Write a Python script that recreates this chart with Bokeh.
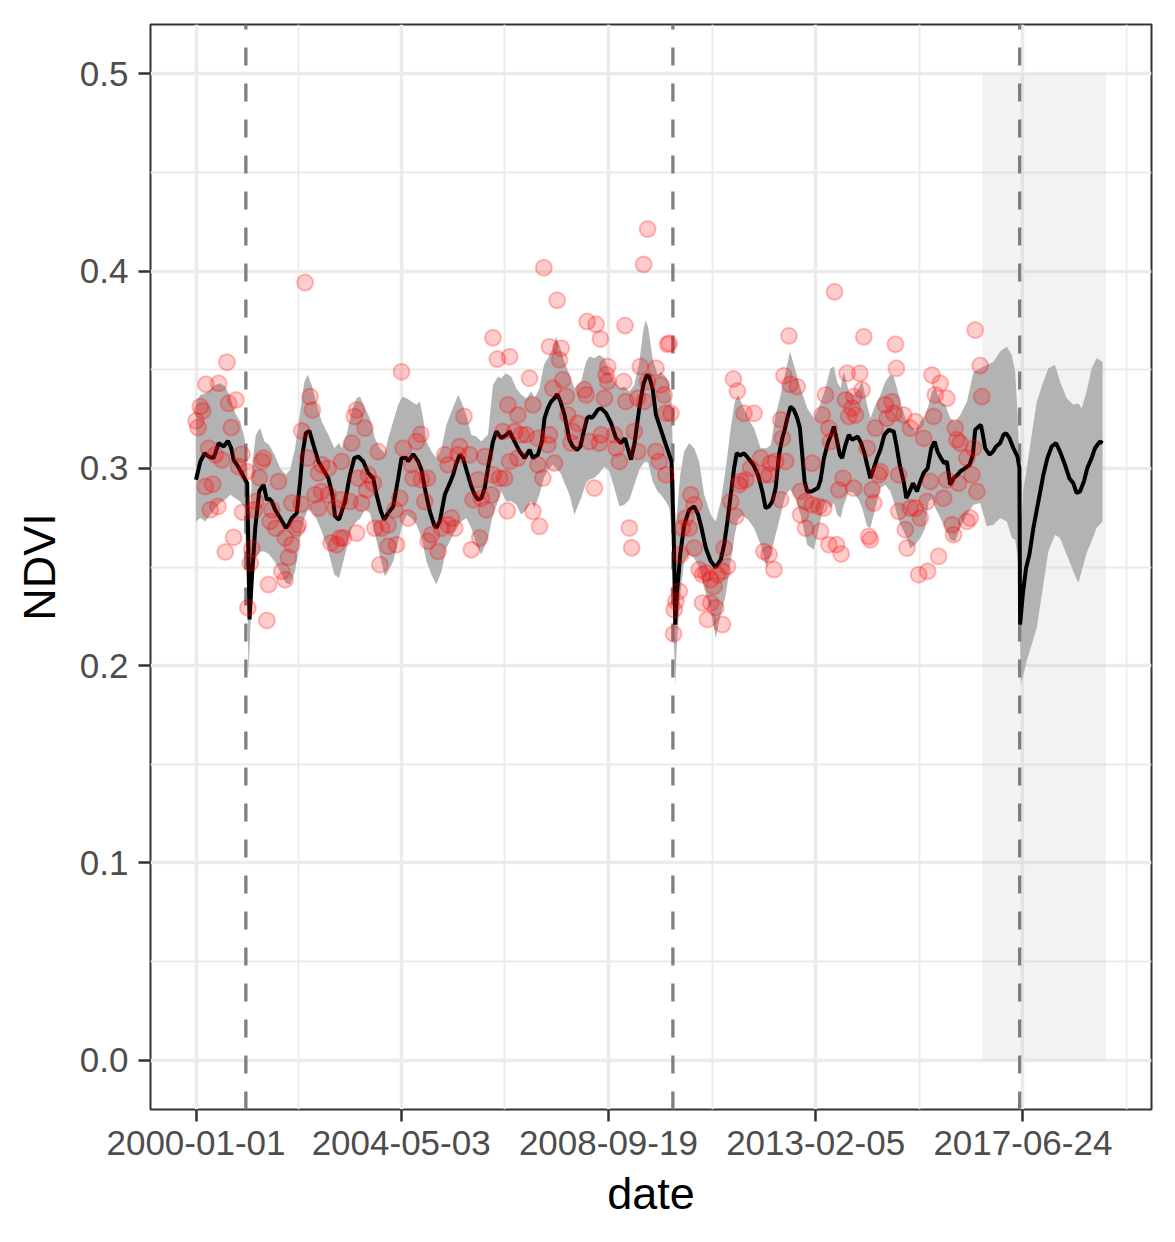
import pandas as pd
from bokeh.plotting import figure
from bokeh.models import Range1d, FixedTicker, DatetimeTickFormatter, NumeralTickFormatter
from bokeh.embed import file_html
from bokeh.resources import INLINE

# ---------------- data (decimal years, NDVI) ----------------
fit_year = [2000.000, 2000.092, 2000.183, 2000.267, 2000.373, 2000.478, 2000.584, 2000.675, 2000.745, 2000.795,
            2000.865, 2000.970, 2001.041, 2001.083, 2001.111, 2001.132, 2001.181, 2001.252, 2001.336, 2001.427,
            2001.498, 2001.547, 2001.603, 2001.673, 2001.779, 2001.898, 2001.955, 2002.025, 2002.130, 2002.201,
            2002.250, 2002.320, 2002.397, 2002.482, 2002.587, 2002.693, 2002.798, 2002.883, 2002.939, 2003.023,
            2003.149, 2003.255, 2003.346, 2003.430, 2003.536, 2003.641, 2003.747, 2003.817, 2003.908, 2003.979,
            2004.063, 2004.169, 2004.274, 2004.344, 2004.450, 2004.485, 2004.590, 2004.696, 2004.766, 2004.836,
            2004.942, 2005.033, 2005.082, 2005.153, 2005.258, 2005.364, 2005.434, 2005.504, 2005.575, 2005.645,
            2005.715, 2005.820, 2005.891, 2005.961, 2006.031, 2006.102, 2006.172, 2006.277, 2006.348, 2006.453,
            2006.558, 2006.629, 2006.734, 2006.840, 2006.945, 2007.051, 2007.121, 2007.226, 2007.311, 2007.367,
            2007.437, 2007.507, 2007.578, 2007.634, 2007.704, 2007.789, 2007.845, 2007.894, 2007.964, 2008.056,
            2008.126, 2008.196, 2008.267, 2008.316, 2008.365, 2008.421, 2008.492, 2008.562, 2008.667, 2008.773,
            2008.878, 2008.984, 2009.068, 2009.124, 2009.195, 2009.265, 2009.370, 2009.462, 2009.532, 2009.581,
            2009.651, 2009.722, 2009.827, 2009.932, 2010.003, 2010.052, 2010.094, 2010.122, 2010.129, 2010.164,
            2010.235, 2010.319, 2010.425, 2010.530, 2010.614, 2010.685, 2010.776, 2010.881, 2010.987, 2011.092,
            2011.163, 2011.233, 2011.303, 2011.374, 2011.430, 2011.500, 2011.584, 2011.669, 2011.781, 2011.880,
            2011.971, 2012.041, 2012.112, 2012.182, 2012.252, 2012.323, 2012.393, 2012.442, 2012.498, 2012.569,
            2012.639, 2012.709, 2012.765, 2012.815, 2012.864, 2012.920, 2013.004, 2013.075, 2013.145, 2013.201,
            2013.271, 2013.356, 2013.426, 2013.482, 2013.538, 2013.609, 2013.658, 2013.728, 2013.799, 2013.869,
            2013.925, 2013.988, 2014.059, 2014.129, 2014.185, 2014.255, 2014.326, 2014.396, 2014.466, 2014.551,
            2014.642, 2014.748, 2014.804, 2014.874, 2014.958, 2015.015, 2015.085, 2015.155, 2015.240, 2015.310,
            2015.380, 2015.465, 2015.542, 2015.612, 2015.675, 2015.746, 2015.816, 2015.872, 2015.942, 2016.013,
            2016.097, 2016.154, 2016.259, 2016.351, 2016.421, 2016.470, 2016.541, 2016.590, 2016.632, 2016.681,
            2016.773, 2016.843, 2016.913, 2016.998, 2017.068, 2017.124, 2017.194, 2017.279, 2017.363, 2017.405,
            2017.419, 2017.476, 2017.546, 2017.616, 2017.700, 2017.806, 2017.911, 2017.996, 2018.087, 2018.178,
            2018.263, 2018.368, 2018.460, 2018.544, 2018.614, 2018.685, 2018.769, 2018.839, 2018.931, 2019.001,
            2019.107, 2019.163]
fit_ndvi = [0.2942, 0.3035, 0.3077, 0.3060, 0.3052, 0.3128, 0.3111, 0.3139, 0.3102, 0.3043,
            0.3018, 0.2976, 0.2942, 0.2925, 0.2529, 0.2234, 0.2444, 0.2698, 0.2883, 0.2917,
            0.2841, 0.2846, 0.2832, 0.2790, 0.2748, 0.2698, 0.2714, 0.2748, 0.2773, 0.2934,
            0.3069, 0.3178, 0.3190, 0.3119, 0.3035, 0.2993, 0.2950, 0.2866, 0.2757, 0.2740,
            0.2832, 0.2967, 0.3052, 0.3060, 0.3035, 0.2976, 0.2950, 0.2866, 0.2782, 0.2740,
            0.2773, 0.2807, 0.2950, 0.3052, 0.3052, 0.3035, 0.3072, 0.3035, 0.2993, 0.2900,
            0.2782, 0.2714, 0.2698, 0.2731, 0.2866, 0.2925, 0.2967, 0.3026, 0.3069, 0.3052,
            0.2993, 0.2908, 0.2866, 0.2841, 0.2849, 0.2900, 0.3001, 0.3136, 0.3187, 0.3153,
            0.3170, 0.3187, 0.3136, 0.3086, 0.3052, 0.3094, 0.3052, 0.3069, 0.3136, 0.3255,
            0.3305, 0.3339, 0.3356, 0.3376, 0.3339, 0.3271, 0.3204, 0.3145, 0.3111, 0.3094,
            0.3111, 0.3187, 0.3255, 0.3263, 0.3255, 0.3271, 0.3297, 0.3305, 0.3280, 0.3229,
            0.3153, 0.3128, 0.3153, 0.3103, 0.3044, 0.3120, 0.3305, 0.3432, 0.3474, 0.3465,
            0.3406, 0.3271, 0.3195, 0.3119, 0.3069, 0.3035, 0.2698, 0.2360, 0.2208, 0.2360,
            0.2563, 0.2714, 0.2790, 0.2807, 0.2765, 0.2698, 0.2596, 0.2529, 0.2498, 0.2537,
            0.2613, 0.2731, 0.2866, 0.3001, 0.3077, 0.3065, 0.3077, 0.3052, 0.3018, 0.2967,
            0.2883, 0.2799, 0.2807, 0.2832, 0.2900, 0.3069, 0.3153, 0.3195, 0.3254, 0.3313,
            0.3296, 0.3254, 0.3204, 0.3069, 0.2934, 0.2883, 0.2883, 0.2891, 0.2900, 0.2940,
            0.3050, 0.3128, 0.3170, 0.3212, 0.3153, 0.3069, 0.3052, 0.3119, 0.3170, 0.3145,
            0.3153, 0.3161, 0.3128, 0.3077, 0.3018, 0.2950, 0.3001, 0.3052, 0.3094, 0.3170,
            0.3195, 0.3187, 0.3119, 0.3018, 0.2934, 0.2849, 0.2883, 0.2925, 0.2883, 0.2934,
            0.2976, 0.3001, 0.3102, 0.3136, 0.3085, 0.3052, 0.3026, 0.3035, 0.2917, 0.2950,
            0.2967, 0.2984, 0.3001, 0.3018, 0.3069, 0.3195, 0.3212, 0.3220, 0.3170, 0.3102,
            0.3069, 0.3085, 0.3111, 0.3128, 0.3170, 0.3178, 0.3153, 0.3102, 0.3060, 0.3001,
            0.2208, 0.2360, 0.2495, 0.2563, 0.2698, 0.2833, 0.2967, 0.3052, 0.3111, 0.3128,
            0.3085, 0.3018, 0.2950, 0.2925, 0.2875, 0.2883, 0.2934, 0.3001, 0.3052, 0.3102,
            0.3136, 0.3128]

band_year = [2000.000, 2000.092, 2000.197, 2000.303, 2000.408, 2000.513, 2000.619, 2000.724, 2000.830, 2000.935,
             2001.027, 2001.083, 2001.111, 2001.146, 2001.195, 2001.266, 2001.357, 2001.448, 2001.547, 2001.659,
             2001.779, 2001.898, 2001.990, 2002.095, 2002.201, 2002.292, 2002.362, 2002.447, 2002.552, 2002.657,
             2002.798, 2002.925, 2003.023, 2003.079, 2003.184, 2003.290, 2003.395, 2003.466, 2003.571, 2003.677,
             2003.782, 2003.887, 2003.993, 2004.063, 2004.169, 2004.274, 2004.365, 2004.450, 2004.555, 2004.661,
             2004.731, 2004.801, 2004.871, 2004.977, 2005.082, 2005.188, 2005.293, 2005.399, 2005.539, 2005.610,
             2005.715, 2005.820, 2005.926, 2006.031, 2006.172, 2006.277, 2006.383, 2006.453, 2006.558, 2006.664,
             2006.769, 2006.875, 2006.980, 2007.086, 2007.156, 2007.261, 2007.353, 2007.437, 2007.543, 2007.613,
             2007.704, 2007.789, 2007.894, 2008.000, 2008.140, 2008.246, 2008.316, 2008.421, 2008.527, 2008.632,
             2008.738, 2008.843, 2008.948, 2009.054, 2009.159, 2009.265, 2009.370, 2009.462, 2009.511, 2009.560,
             2009.651, 2009.757, 2009.827, 2009.932, 2010.003, 2010.052, 2010.094, 2010.129, 2010.164, 2010.235,
             2010.319, 2010.425, 2010.530, 2010.635, 2010.741, 2010.881, 2010.987, 2011.092, 2011.198, 2011.303,
             2011.388, 2011.458, 2011.549, 2011.669, 2011.795, 2011.936, 2012.062, 2012.147, 2012.252, 2012.358,
             2012.463, 2012.555, 2012.639, 2012.779, 2012.920, 2013.061, 2013.201, 2013.306, 2013.412, 2013.482,
             2013.552, 2013.623, 2013.693, 2013.799, 2013.904, 2014.009, 2014.080, 2014.185, 2014.255, 2014.361,
             2014.466, 2014.572, 2014.677, 2014.748, 2014.818, 2014.888, 2014.994, 2015.099, 2015.205, 2015.310,
             2015.415, 2015.486, 2015.556, 2015.626, 2015.732, 2015.837, 2015.942, 2016.048, 2016.153, 2016.295,
             2016.435, 2016.576, 2016.716, 2016.857, 2016.998, 2017.138, 2017.244, 2017.314, 2017.363, 2017.405,
             2017.433, 2017.490, 2017.560, 2017.665, 2017.771, 2017.911, 2018.017, 2018.157, 2018.263, 2018.403,
             2018.544, 2018.649, 2018.720, 2018.825, 2018.931, 2019.036, 2019.163]
band_lo = [0.2731, 0.2748, 0.2731, 0.2765, 0.2799, 0.2824, 0.2841, 0.2866, 0.2849, 0.2832,
           0.2799, 0.2360, 0.1955, 0.2174, 0.2428, 0.2546, 0.2579, 0.2579, 0.2563, 0.2529,
           0.2478, 0.2419, 0.2411, 0.2478, 0.2647, 0.2748, 0.2790, 0.2782, 0.2740, 0.2681,
           0.2579, 0.2461, 0.2444, 0.2495, 0.2596, 0.2698, 0.2731, 0.2743, 0.2790, 0.2773,
           0.2672, 0.2554, 0.2453, 0.2478, 0.2529, 0.2630, 0.2714, 0.2765, 0.2748, 0.2714,
           0.2672, 0.2613, 0.2529, 0.2461, 0.2411, 0.2478, 0.2596, 0.2647, 0.2706, 0.2731,
           0.2748, 0.2698, 0.2613, 0.2563, 0.2647, 0.2765, 0.2832, 0.2883, 0.2833, 0.2833,
           0.2816, 0.2765, 0.2791, 0.2833, 0.2799, 0.2867, 0.2951, 0.2993, 0.3018, 0.3001,
           0.2976, 0.2926, 0.2867, 0.2765, 0.2850, 0.2926, 0.2943, 0.2951, 0.2976, 0.3010,
           0.2985, 0.2900, 0.2808, 0.2816, 0.2841, 0.2917, 0.2993, 0.3027, 0.3035, 0.3027,
           0.2934, 0.2883, 0.2866, 0.2832, 0.2799, 0.2698, 0.2191, 0.1896, 0.2107, 0.2360,
           0.2529, 0.2563, 0.2546, 0.2495, 0.2394, 0.2276, 0.2141, 0.2259, 0.2360, 0.2529,
           0.2664, 0.2740, 0.2762, 0.2740, 0.2698, 0.2613, 0.2495, 0.2563, 0.2664, 0.2765,
           0.2866, 0.2891, 0.2866, 0.2765, 0.2613, 0.2588, 0.2740, 0.2832, 0.2799, 0.2824,
           0.2765, 0.2748, 0.2816, 0.2883, 0.2875, 0.2841, 0.2799, 0.2706, 0.2698, 0.2799,
           0.2900, 0.2917, 0.2883, 0.2832, 0.2765, 0.2714, 0.2664, 0.2596, 0.2613, 0.2647,
           0.2698, 0.2832, 0.2846, 0.2799, 0.2748, 0.2698, 0.2638, 0.2630, 0.2700, 0.2765,
           0.2816, 0.2824, 0.2706, 0.2714, 0.2748, 0.2731, 0.2647, 0.2638, 0.2563, 0.2444,
           0.1905, 0.1955, 0.2023, 0.2107, 0.2191, 0.2411, 0.2579, 0.2664, 0.2647, 0.2563,
           0.2478, 0.2419, 0.2478, 0.2571, 0.2630, 0.2698, 0.2731]
band_hi = [0.3338, 0.3372, 0.3381, 0.3398, 0.3423, 0.3431, 0.3414, 0.3364, 0.3279, 0.3237,
           0.3153, 0.3001, 0.2580, 0.2765, 0.3035, 0.3170, 0.3204, 0.3136, 0.3119, 0.3069,
           0.3001, 0.2967, 0.2993, 0.3102, 0.3288, 0.3440, 0.3474, 0.3423, 0.3322, 0.3237,
           0.3170, 0.3102, 0.3128, 0.3102, 0.3170, 0.3288, 0.3355, 0.3364, 0.3305, 0.3254,
           0.3153, 0.3102, 0.3077, 0.3153, 0.3237, 0.3322, 0.3364, 0.3355, 0.3339, 0.3322,
           0.3339, 0.3254, 0.3136, 0.3085, 0.3052, 0.3102, 0.3220, 0.3288, 0.3372, 0.3338,
           0.3271, 0.3170, 0.3161, 0.3136, 0.3170, 0.3423, 0.3465, 0.3457, 0.3482, 0.3465,
           0.3406, 0.3373, 0.3356, 0.3389, 0.3356, 0.3406, 0.3524, 0.3558, 0.3609, 0.3668,
           0.3609, 0.3541, 0.3474, 0.3406, 0.3440, 0.3541, 0.3567, 0.3558, 0.3575, 0.3558,
           0.3491, 0.3440, 0.3406, 0.3415, 0.3389, 0.3423, 0.3541, 0.3710, 0.3752, 0.3710,
           0.3558, 0.3474, 0.3490, 0.3465, 0.3431, 0.3338, 0.2951, 0.2698, 0.2765, 0.2967,
           0.3085, 0.3128, 0.3102, 0.3035, 0.2866, 0.2765, 0.2731, 0.2832, 0.3001, 0.3204,
           0.3338, 0.3372, 0.3322, 0.3254, 0.3204, 0.3102, 0.3102, 0.3119, 0.3271, 0.3372,
           0.3490, 0.3592, 0.3524, 0.3406, 0.3305, 0.3254, 0.3330, 0.3406, 0.3507, 0.3516,
           0.3440, 0.3406, 0.3490, 0.3389, 0.3372, 0.3406, 0.3440, 0.3322, 0.3254, 0.3322,
           0.3372, 0.3440, 0.3474, 0.3465, 0.3406, 0.3338, 0.3254, 0.3220, 0.3187, 0.3237,
           0.3271, 0.3322, 0.3389, 0.3406, 0.3338, 0.3322, 0.3254, 0.3237, 0.3271, 0.3338,
           0.3490, 0.3507, 0.3524, 0.3541, 0.3592, 0.3617, 0.3575, 0.3490, 0.3288, 0.3035,
           0.2698, 0.2900, 0.3001, 0.3170, 0.3338, 0.3440, 0.3507, 0.3524, 0.3440, 0.3355,
           0.3322, 0.3330, 0.3305, 0.3389, 0.3507, 0.3558, 0.3541]

obs_year = [2002.306, 2000.654, 2000.211, 2000.478, 2000.689, 2000.844, 2000.092, 2000.141, 2000.000, 2000.042,
            2000.745, 2000.267, 2000.408, 2000.549, 2000.970, 2000.900, 2001.076, 2001.427, 2001.392, 2001.336,
            2001.744, 2000.197, 2000.352, 2000.464, 2000.302, 2000.984, 2001.237, 2001.266, 2000.795, 2000.619,
            2001.181, 2001.146, 2001.603, 2001.568, 2001.687, 2001.884, 2002.025, 2002.130, 2001.954, 2001.814,
            2001.884, 2001.533, 2001.498, 2001.097, 2002.236, 2002.411, 2002.461, 2002.362, 2002.657, 2002.798,
            2002.587, 2002.657, 2002.517, 2002.587, 2002.798, 2002.025, 2002.222, 2002.165, 2002.974, 2002.854,
            2003.044, 2003.044, 2002.939,
            2004.344, 2006.277, 2006.369, 2006.629, 2003.346, 2003.395, 2003.571, 2003.290, 2003.852, 2004.379,
            2004.661, 2004.752, 2003.079, 2003.430, 2003.641, 2003.747, 2003.606, 2003.255, 2003.501, 2003.395,
            2003.114, 2003.782, 2003.923, 2004.063, 2004.204, 2004.309, 2004.485, 2004.239, 2004.063, 2003.887,
            2004.555, 2004.590, 2004.766, 2004.893, 2004.836, 2004.977, 2004.907, 2005.118, 2005.188, 2005.328,
            2005.469, 2005.399, 2005.258, 2005.328, 2005.574, 2005.666, 2005.539, 2005.785, 2006.102, 2005.961,
            2005.856, 2006.031, 2006.137, 2005.996, 2005.820, 2006.242, 2006.488, 2006.594, 2006.523, 2006.629,
            2006.580, 2006.277, 2006.418,
            2009.546, 2009.462, 2007.353, 2007.634, 2008.267, 2008.456, 2008.548, 2009.068, 2009.968, 2007.472,
            2007.718, 2007.683, 2007.050, 2008.702, 2008.667, 2008.702, 2009.040, 2009.391, 2009.722, 2009.546,
            2009.827, 2007.753, 2007.543, 2008.210, 2008.245, 2007.824, 2008.632, 2009.089, 2009.335, 2009.476,
            2009.897, 2006.804, 2007.121, 2007.859, 2008.070, 2007.964, 2007.472, 2007.437, 2006.875, 2006.980,
            2006.734, 2007.226, 2006.804, 2007.226, 2007.332, 2007.578, 2007.929, 2008.316, 2008.527, 2008.562,
            2008.843, 2008.878, 2008.948, 2009.265, 2009.335, 2009.722, 2009.792, 2009.933, 2008.421, 2007.121,
            2007.261, 2009.159, 2009.209, 2009.933,
            2010.003, 2010.038, 2012.533, 2011.359, 2011.444, 2011.584, 2011.795, 2012.428, 2012.554, 2012.709,
            2013.307, 2013.236, 2013.377, 2012.358, 2012.393, 2011.936, 2012.147, 2012.252, 2012.463, 2012.006,
            2012.112, 2011.725, 2011.514, 2011.619, 2011.479, 2011.303, 2011.409, 2012.358, 2013.025, 2012.779,
            2012.885, 2013.025, 2013.166, 2013.271, 2012.779, 2012.885, 2013.201, 2013.377, 2010.460, 2010.530,
            2010.354, 2010.425, 2010.284, 2010.530, 2010.249, 2011.163, 2011.233, 2010.635, 2010.706, 2010.776,
            2010.881, 2010.952, 2011.022, 2011.127, 2010.706, 2010.881, 2010.987, 2010.811, 2011.127, 2010.214,
            2010.143, 2010.108, 2010.094, 2012.006, 2012.112, 2012.217,
            2013.496, 2014.115, 2014.783, 2014.804, 2016.470, 2016.575, 2016.610, 2013.763, 2014.030, 2014.080,
            2013.904, 2013.728, 2013.869, 2013.939, 2013.798, 2014.361, 2014.572, 2014.712, 2014.747, 2014.607,
            2014.958, 2015.204, 2015.099, 2015.556, 2015.732, 2015.626, 2015.872, 2015.591, 2015.380, 2016.048,
            2016.083, 2016.153, 2016.294, 2016.435, 2016.505, 2016.399, 2016.118, 2015.872, 2015.521, 2015.802,
            2014.853, 2014.466, 2014.431, 2014.291, 2014.326, 2013.904, 2013.679, 2013.588, 2013.412, 2014.185,
            2014.853, 2014.993, 2015.029, 2015.099, 2015.204, 2015.310, 2015.450, 2015.978, 2016.013, 2016.294,
            2016.364, 2014.220, 2014.255, 2013.538, 2013.637, 2015.696, 2015.275, 2015.464]
obs_ndvi = [0.3942, 0.3538, 0.3426, 0.3431, 0.3330, 0.3347, 0.3313, 0.3291, 0.3241, 0.3207,
            0.3207, 0.3102, 0.3069, 0.3043, 0.3072, 0.3010, 0.2984, 0.3052, 0.3035, 0.2954,
            0.2934, 0.2908, 0.2920, 0.2807, 0.2790, 0.2778, 0.2790, 0.2832, 0.2650, 0.2576,
            0.2593, 0.2520, 0.2790, 0.2731, 0.2697, 0.2647, 0.2613, 0.2697, 0.2549, 0.2478,
            0.2436, 0.2411, 0.2229, 0.2293, 0.3190, 0.3364, 0.3296, 0.3052, 0.3018, 0.3001,
            0.2976, 0.2883, 0.2866, 0.2799, 0.2866, 0.2824, 0.2819, 0.2714, 0.2613, 0.2622,
            0.2647, 0.2841, 0.2799,
            0.3490, 0.3662, 0.3554, 0.3566, 0.3263, 0.3296, 0.3204, 0.3128, 0.3085, 0.3102,
            0.3136, 0.3173, 0.3035, 0.2950, 0.2967, 0.2925, 0.2891, 0.2832, 0.2824, 0.2672,
            0.2647, 0.2697, 0.2697, 0.2714, 0.2790, 0.2849, 0.2748, 0.2613, 0.2605, 0.2512,
            0.3018, 0.2950, 0.2942, 0.2950, 0.2832, 0.2664, 0.2630, 0.2579, 0.2697, 0.2714,
            0.2697, 0.2748, 0.3069, 0.3018, 0.3111, 0.3263, 0.3069, 0.3069, 0.3060, 0.2942,
            0.2841, 0.2849, 0.2790, 0.2647, 0.2588, 0.2866, 0.3187, 0.3322, 0.2950, 0.3035,
            0.2785, 0.2967, 0.2950,
            0.4213, 0.4034, 0.4017, 0.3852, 0.3744, 0.3730, 0.3656, 0.3724, 0.3629, 0.3617,
            0.3609, 0.3550, 0.3457, 0.3516, 0.3474, 0.3440, 0.3440, 0.3516, 0.3508, 0.3440,
            0.3423, 0.3449, 0.3406, 0.3398, 0.3373, 0.3364, 0.3356, 0.3339, 0.3356, 0.3339,
            0.3373, 0.3271, 0.3322, 0.3271, 0.3229, 0.3187, 0.3170, 0.3120, 0.3170, 0.3170,
            0.3187, 0.3153, 0.3052, 0.3018, 0.2951, 0.3027, 0.3128, 0.3136, 0.3128, 0.3170,
            0.3170, 0.3103, 0.3035, 0.3187, 0.3086, 0.3086, 0.3035, 0.2968, 0.2900, 0.2782,
            0.2706, 0.2698, 0.2597, 0.3280,
            0.3634, 0.3279, 0.3672, 0.3453, 0.3392, 0.3279, 0.3279, 0.3470, 0.3426, 0.3414,
            0.3372, 0.3271, 0.3203, 0.3246, 0.3153, 0.3052, 0.3026, 0.3035, 0.3035, 0.2967,
            0.2967, 0.3001, 0.2934, 0.2942, 0.2917, 0.2832, 0.2757, 0.2841, 0.3026, 0.2883,
            0.2832, 0.2816, 0.2807, 0.2799, 0.2765, 0.2697, 0.2681, 0.2613, 0.2866, 0.2816,
            0.2748, 0.2697, 0.2697, 0.2596, 0.2563, 0.2596, 0.2503, 0.2487, 0.2461, 0.2470,
            0.2436, 0.2402, 0.2461, 0.2478, 0.2318, 0.2318, 0.2293, 0.2234, 0.2208, 0.2377,
            0.2326, 0.2284, 0.2161, 0.2579, 0.2563, 0.2487,
            0.3895, 0.3667, 0.3629, 0.3507, 0.3701, 0.3521, 0.3364, 0.3482, 0.3482, 0.3398,
            0.3364, 0.3347, 0.3305, 0.3271, 0.3263, 0.3204, 0.3322, 0.3338, 0.3279, 0.3254,
            0.3271, 0.3237, 0.3204, 0.3473, 0.3431, 0.3372, 0.3355, 0.3263, 0.3153, 0.3204,
            0.3145, 0.3128, 0.3052, 0.3102, 0.2883, 0.2967, 0.2925, 0.2942, 0.2934, 0.2849,
            0.2967, 0.2984, 0.2967, 0.2891, 0.2824, 0.2900, 0.2950, 0.2891, 0.3136, 0.3102,
            0.2782, 0.2689, 0.2596, 0.2799, 0.2799, 0.2748, 0.2832, 0.2714, 0.2664, 0.2731,
            0.2748, 0.2655, 0.2638, 0.2613, 0.2566, 0.2554, 0.2461, 0.2478]

break_year = [2001.054, 2010.080, 2017.410]
shade_start, shade_end = 2016.620, 2019.235
shade_bottom, shade_top = 0.0, 0.5
date_ticks = ["2000-01-01", "2004-05-03", "2008-09-19", "2013-02-05", "2017-06-24"]
ndvi_ticks = [0.0, 0.1, 0.2, 0.3, 0.4, 0.5]
ndvi_minor = [0.05, 0.15, 0.25, 0.35, 0.45]

# ---------------- helpers ----------------
MS_DAY = 86400000.0
BASE = pd.Timestamp("2000-01-01").value / 1e6


def yr(y):
    return BASE + (y - 2000.0) * 365.25 * MS_DAY


def yrs(a):
    return [yr(v) for v in a]


FONT = "Liberation Sans"

x0, x1 = fit_year[0], shade_end
span = x1 - x0
p = figure(frame_width=1001, frame_height=1085,
           min_border_left=150, min_border_right=22, min_border_top=24, min_border_bottom=128,
           x_range=Range1d(yr(x0 - 0.05 * span), yr(x1 + 0.05 * span)),
           y_range=Range1d(-0.025, 0.525),
           x_axis_type="datetime", output_backend="svg", toolbar_location=None,
           background_fill_color="white", border_fill_color="white")

# ticks
tick_ms = [pd.Timestamp(d).value / 1e6 for d in date_ticks]
minor_ms = [(a + b) / 2 for a, b in zip(tick_ms[:-1], tick_ms[1:])]
minor_ms.append(tick_ms[-1] + (tick_ms[-1] - tick_ms[-2]) / 2)
xt = FixedTicker(ticks=tick_ms, minor_ticks=minor_ms)
yt = FixedTicker(ticks=ndvi_ticks, minor_ticks=ndvi_minor)
p.xaxis.ticker = xt
p.yaxis.ticker = yt
p.xgrid.ticker = xt
p.ygrid.ticker = yt
fmt = "%Y-%m-%d"
p.xaxis.formatter = DatetimeTickFormatter(milliseconds=fmt, seconds=fmt, minsec=fmt, minutes=fmt,
                                          hourmin=fmt, hours=fmt, days=fmt, months=fmt, years=fmt)
p.yaxis.formatter = NumeralTickFormatter(format="0.0")

for g in (p.xgrid, p.ygrid):
    g.grid_line_color = "#ebebeb"
    g.grid_line_width = 3.5
    g.minor_grid_line_color = "#ebebeb"
    g.minor_grid_line_width = 1.8

p.outline_line_color = "#333333"
p.outline_line_width = 2

for ax in (p.xaxis, p.yaxis):
    ax.axis_line_color = None
    ax.major_tick_line_color = "#333333"
    ax.major_tick_line_width = 2.5
    ax.major_tick_out = 12
    ax.major_tick_in = 0
    ax.minor_tick_line_color = None
    ax.major_label_text_font = FONT
    ax.major_label_text_font_size = "35px"
    ax.major_label_text_color = "#4d4d4d"
    ax.axis_label_text_font = FONT
    ax.axis_label_text_font_size = "45px"
    ax.axis_label_text_font_style = "normal"
    ax.axis_label_text_color = "black"

p.xaxis.axis_label = "date"
p.yaxis.axis_label = "NDVI"
p.xaxis.major_label_standoff = 9
p.yaxis.major_label_standoff = 10
p.xaxis.axis_label_standoff = 10
p.yaxis.axis_label_standoff = 12

# shaded forecast period
p.quad(left=[yr(shade_start)], right=[yr(shade_end)], bottom=[shade_bottom], top=[shade_top],
       fill_color="#bebebe", fill_alpha=0.2, line_color=None)

# confidence ribbon
p.varea(x=yrs(band_year), y1=band_lo, y2=band_hi, fill_color="#b3b3b3")

# breakpoints
bx = yrs(break_year)
p.segment(x0=bx, x1=bx, y0=[-0.025] * len(bx), y1=[0.525] * len(bx),
          line_color="#7f7f7f", line_width=3.3, line_dash="18 18")

# fitted line
p.line(yrs(fit_year), fit_ndvi, line_color="black", line_width=4)

# observations
p.scatter(yrs(obs_year), obs_ndvi, size=16, fill_color="red", fill_alpha=0.2,
          line_color="red", line_alpha=0.25, line_width=2)

open("out.html", "w").write(file_html(p, INLINE))
